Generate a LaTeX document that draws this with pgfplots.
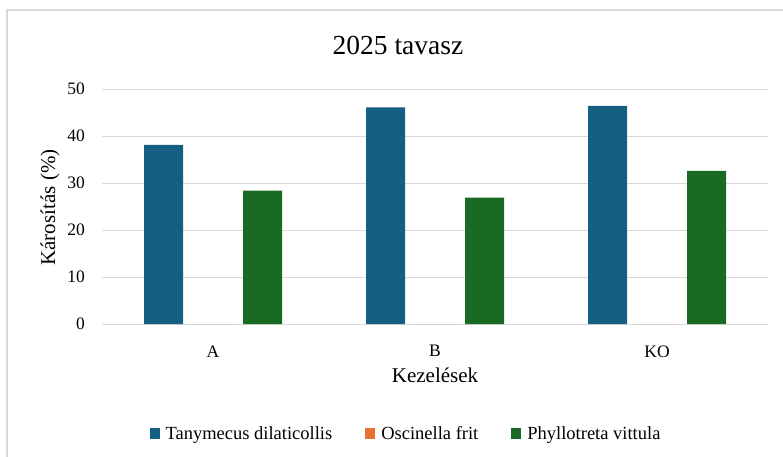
\documentclass[border=0pt]{standalone}
\usepackage{pgfplots}
\pgfplotsset{compat=1.18}
\usepackage{fontspec}
\setmainfont{Liberation Serif}

\definecolor{tanyblue}{HTML}{156082}
\definecolor{oscorange}{HTML}{E97132}
\definecolor{phylgreen}{HTML}{196B24}
\definecolor{gridgray}{HTML}{D9D9D9}

\pgfplotsset{
  sq legend/.style={legend image code/.code={\path[##1, draw=none] (0pt,-5.5pt) rectangle (10pt,5.5pt);}},
}

\begin{document}
\begin{tikzpicture}
\path[use as bounding box] (0,0) rectangle (783pt,456pt);
% chart frame (only left and top edges are in view)
\draw[gridgray, line width=1.5pt] (7pt,-5pt) -- (7pt,446pt) -- (790pt,446pt);

\begin{axis}[
  at={(102pt,132pt)}, anchor=south west,
  scale only axis, width=666pt, height=235pt,
  ybar, bar width=39pt,
  xmin=-0.5, xmax=2.5, ymin=0, ymax=50,
  xtick=data, xticklabels={A,B,KO},
  ytick={0,10,20,30,40,50},
  ymajorgrids, grid style={gridgray, line width=1pt},
  axis line style={draw=none},
  tick style={draw=none},
  /pgf/number format/assume math mode=true,
  yticklabel style={font=\fontsize{17.5}{21}\selectfont, anchor=east, inner sep=0pt, xshift=-17pt},
  xticklabel style={font=\fontsize{17.5}{21}\selectfont, anchor=north, inner sep=0pt, yshift=-17pt},
  legend columns=3,
  legend style={at={(axis description cs:0.4565,-0.468)}, anchor=center,
    draw=none, fill=none, font=\fontsize{18.5}{22}\selectfont,
    /tikz/every odd column/.append style={column sep=4pt},
    /tikz/every even column/.append style={column sep=31pt}},
]
\addplot[fill=tanyblue, draw=none, bar shift=-49.5pt, sq legend] coordinates {(0,38.1) (1,46.1) (2,46.4)};
\addplot[fill=oscorange, draw=none, bar shift=0pt, sq legend] coordinates {(0,0) (1,0) (2,0)};
\addplot[fill=phylgreen, draw=none, bar shift=49.5pt, sq legend] coordinates {(0,28.4) (1,26.9) (2,32.6)};
\legend{Tanymecus dilaticollis, Oscinella frit, Phyllotreta vittula}
\end{axis}

\node[anchor=base, font=\fontsize{27.5}{32}\selectfont] at (398pt,401pt) {2025 tavasz};
\node[rotate=90, font=\fontsize{21}{25}\selectfont] at (50pt,248.5pt) {Károsítás (\%)};
\node[anchor=base, font=\fontsize{21}{25}\selectfont] at (435pt,74pt) {Kezelések};
\end{tikzpicture}
\end{document}
